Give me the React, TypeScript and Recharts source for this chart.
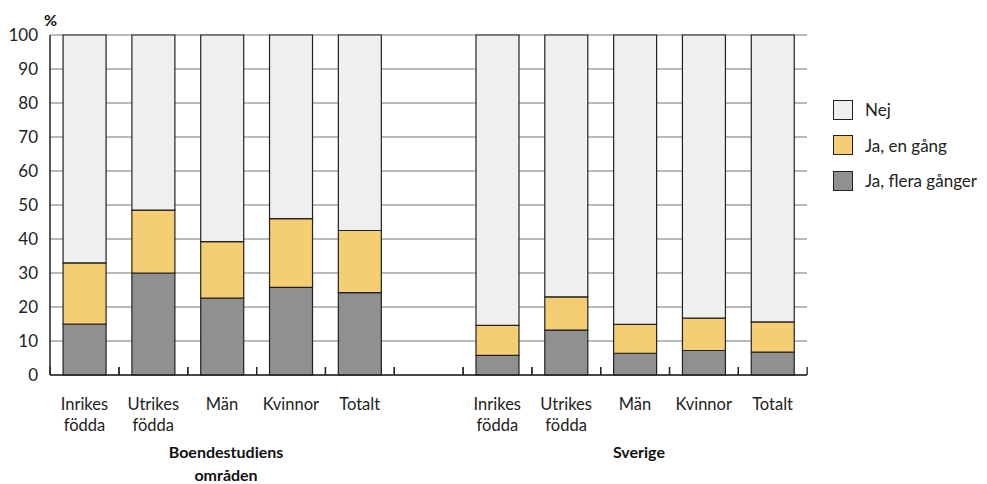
import { Bar, BarChart, CartesianGrid, Rectangle, XAxis, YAxis } from 'recharts'

// Two groups of five bars, with an empty slot between them
const categories = [
  'Inrikes\nfödda',
  'Utrikes\nfödda',
  'Män',
  'Kvinnor',
  'Totalt',
  '',
  'Inrikes\nfödda',
  'Utrikes\nfödda',
  'Män',
  'Kvinnor',
  'Totalt',
]

// group title shown under the middle bar of each group
const groupLabels: Record<number, string> = {
  2: 'Boendestudiens\nområden',
  8: 'Sverige',
}

const flera = [15, 30, 22.6, 25.8, 24.2, null, 5.8, 13.2, 6.4, 7.2, 6.7]
const enGang = [18, 18.5, 16.6, 20.2, 18.3, null, 8.8, 9.8, 8.5, 9.5, 8.9]
const nej = [67, 51.5, 60.8, 54, 57.5, null, 85.4, 77, 85.1, 83.3, 84.4]

const yTicks = [0, 10, 20, 30, 40, 50, 60, 70, 80, 90, 100]

const series = [
  { key: 'flera', name: 'Ja, flera gånger', color: '#909090' },
  { key: 'enGang', name: 'Ja, en gång', color: '#f5cd72' },
  { key: 'nej', name: 'Nej', color: '#efefef' },
]

const data = categories.map((label, i) => ({
  id: `c${i}`,
  label,
  flera: flera[i],
  enGang: enGang[i],
  nej: nej[i],
}))

const WIDTH = 987
const HEIGHT = 484
const X_AXIS_HEIGHT = 30
const MARGIN = { top: 35, right: 180, bottom: 109 - X_AXIS_HEIGHT, left: 0 }
const Y_AXIS_WIDTH = 50
const PLOT_WIDTH = WIDTH - MARGIN.left - MARGIN.right - Y_AXIS_WIDTH
const SLOT = PLOT_WIDTH / categories.length

const FONT = 'Lato, "Open Sans", sans-serif'

function CategoryTick({ x, y, payload }: any) {
  const index = payload.index as number
  const lines = categories[index] ? categories[index].split('\n') : []
  const group = groupLabels[index]
  return (
    <g>
      {lines.map((line, i) => (
        <text
          key={i}
          x={x}
          y={y + 29 + i * 21}
          textAnchor="middle"
          dominantBaseline="central"
          fontFamily={FONT}
          fontSize={16.5}
          fill="#222"
        >
          {line}
        </text>
      ))}
      {group &&
        group.split('\n').map((line, i) => (
          <text
            key={`g${i}`}
            x={x + 4}
            y={y + 76 + i * 23}
            textAnchor="middle"
            dominantBaseline="central"
            fontFamily={FONT}
            fontSize={16}
            fontWeight={700}
            fill="#111"
          >
            {line}
          </text>
        ))}
    </g>
  )
}

// bottom segment also draws the small upward ticks at both slot edges
function BaseSegment(props: any) {
  const { x, y, width, height, fill, stroke, strokeWidth } = props
  const cx = x + width / 2
  const bottom = y + height
  return (
    <g>
      <Rectangle x={x} y={y} width={width} height={height} fill={fill} stroke={stroke} strokeWidth={strokeWidth} />
      {[cx - SLOT / 2, cx + SLOT / 2].map((ex, i) => (
        <line key={i} x1={ex} x2={ex} y1={bottom} y2={bottom - 8} stroke="#222" strokeWidth={1.3} />
      ))}
    </g>
  )
}

function LegendBox() {
  const items = [...series].reverse()
  return (
    <div style={{ position: 'absolute', left: 833, top: 92, fontFamily: FONT }}>
      {items.map((s) => (
        <div
          key={s.key}
          style={{ display: 'flex', alignItems: 'center', height: 35.5 }}
        >
          <span
            style={{
              width: 18,
              height: 18,
              background: s.color,
              border: '1.5px solid #222',
              marginRight: 12,
            }}
          />
          <span style={{ fontSize: 17, color: '#222' }}>{s.name}</span>
        </div>
      ))}
    </div>
  )
}

export default function App() {
  return (
    <div style={{ position: 'absolute', left: 0, top: 0, width: WIDTH, height: HEIGHT, background: '#fff' }}>
      <BarChart width={WIDTH} height={HEIGHT} data={data} margin={MARGIN} barCategoryGap="19%">
        <CartesianGrid vertical={false} stroke="#777" strokeWidth={1.2} />
        <YAxis
          width={Y_AXIS_WIDTH}
          domain={[0, 100]}
          ticks={yTicks}
          interval={0}
          tickLine={false}
          tickSize={0}
          tickMargin={12}
          axisLine={{ stroke: '#222', strokeWidth: 1.5 }}
          tick={{ fontSize: 17, fill: '#222', fontFamily: FONT }}
        />
        <XAxis
          dataKey="id"
          height={X_AXIS_HEIGHT}
          interval={0}
          tickLine={false}
          tickSize={0}
          tickMargin={0}
          axisLine={{ stroke: '#222', strokeWidth: 1.5 }}
          tick={<CategoryTick />}
        />
        {series.map((s) => (
          <Bar
            key={s.key}
            dataKey={s.key}
            name={s.name}
            stackId="a"
            fill={s.color}
            stroke="#222"
            strokeWidth={1.2}
            shape={s.key === 'flera' ? (p: any) => <BaseSegment {...p} /> : undefined}
            isAnimationActive={false}
          />
        ))}
      </BarChart>
      <div
        style={{
          position: 'absolute',
          left: 44,
          top: 10,
          fontFamily: FONT,
          fontWeight: 700,
          fontSize: 16,
          color: '#111',
        }}
      >
        %
      </div>
      <LegendBox />
    </div>
  )
}
